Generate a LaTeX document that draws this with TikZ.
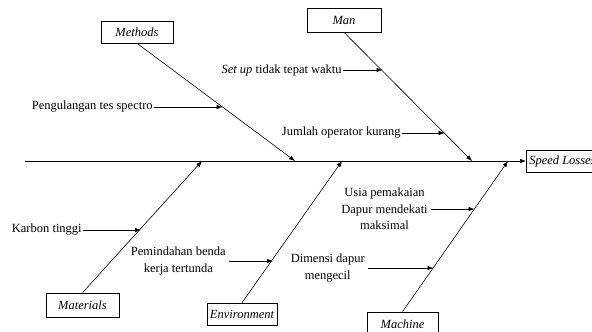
\documentclass[tikz,border=0pt]{standalone}
\usepackage{fontspec}
\setmainfont{Liberation Serif}
\usetikzlibrary{arrows.meta}
\begin{document}
\begin{tikzpicture}[x=1pt,y=-1pt,
  line width=0.6pt,
  catbox/.style={draw, line width=0.6pt, font=\fontsize{12.5}{14}\selectfont\itshape, inner sep=1.5pt, minimum height=22pt},
  cause/.style={font=\fontsize{12.5}{16.5}\selectfont, inner sep=1pt, align=center},
  bone/.style={-{Latex[length=6pt,width=4.5pt]}},
  arr/.style={-{Latex[length=6pt,width=4.5pt]}}]
\useasboundingbox (0,0) rectangle (592,332);
% spine
\coordinate (tail) at (25,161);
\node[catbox, anchor=west, minimum height=22pt, inner xsep=3pt] (effect) at (526,161) {Speed Losses};
\draw[arr] (tail) -- (effect.west);
% category boxes
\node[catbox, minimum width=72pt] (methods) at (137,32) {Methods};
\node[catbox, minimum width=74pt, minimum height=24pt] (man) at (344,20) {Man};
\node[catbox, minimum width=73pt, minimum height=24pt] (materials) at (82.5,305) {Materials};
\node[catbox, minimum width=70pt] (environment) at (242,314) {Environment};
\node[catbox, minimum width=71pt, minimum height=24pt] (machine) at (402.5,324) {Machine};
% spine points
\coordinate (pMe) at (295,161);
\coordinate (pMa) at (472,161);
\coordinate (pMt) at (202,161);
\coordinate (pEn) at (342,161);
\coordinate (pMc) at (508,161);
\draw[bone] (methods.south) -- (pMe);
\draw[bone] (man.south) -- (pMa);
\draw[bone] (materials.north) -- (pMt);
\draw[bone] (environment.north) -- (pEn);
\draw[bone] (machine.north) -- (pMc);
% cause points on bones
\coordinate (c1) at (222.5,107);
\coordinate (c2) at (382.5,70);
\coordinate (c3) at (444.5,133);
\coordinate (c4) at (141,230);
\coordinate (c5) at (273,261);
\coordinate (c6) at (474.5,209);
\coordinate (c7) at (433.5,268);
% causes
\node[cause, anchor=east] (t1) at (154,107) {Pengulangan tes spectro};
\node[cause, anchor=east] (t2) at (343,70) {\textit{Set up} tidak tepat waktu};
\node[cause, anchor=east] (t3) at (402,133) {Jumlah operator kurang};
\node[cause, anchor=east] (t4) at (83,230) {Karbon tinggi};
\node[cause, anchor=east] (t5) at (227,261) {Pemindahan benda\\kerja tertunda};
\node[cause, anchor=east] (t6) at (429,209) {Usia pemakaian\\Dapur mendekati\\maksimal};
\node[cause, anchor=east] (t7) at (366,268) {Dimensi dapur\\mengecil};
\draw[arr] (t1.east) -- (c1);
\draw[arr] (t2.east) -- (c2);
\draw[arr] (t3.east) -- (c3);
\draw[arr] (t4.east) -- (c4);
\draw[arr] ([xshift=2pt]t5.east) -- (c5);
\draw[arr] ([xshift=2pt]t6.east) -- (c6);
\draw[arr] ([xshift=2pt]t7.east) -- (c7);
\end{tikzpicture}
\end{document}
